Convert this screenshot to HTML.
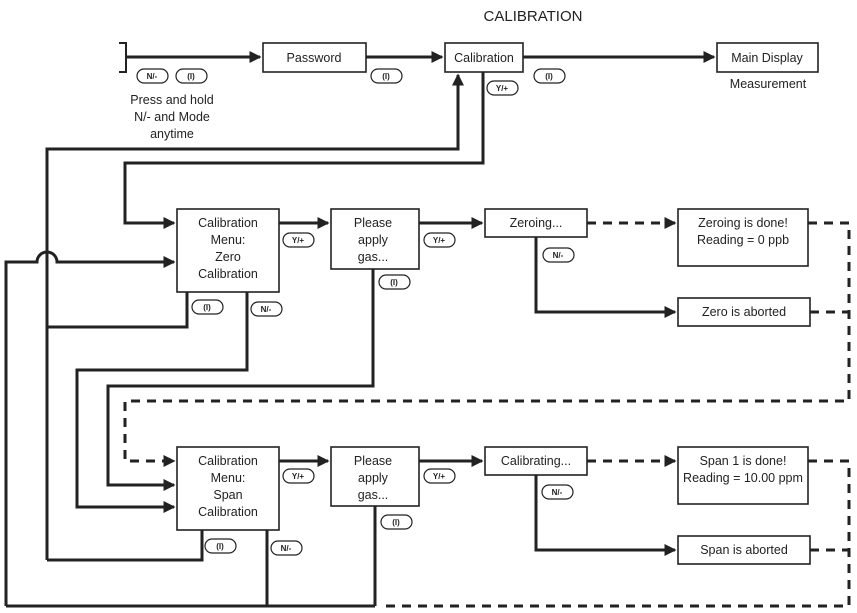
<!DOCTYPE html>
<html><head><meta charset="utf-8"><style>
html,body{margin:0;padding:0;background:#fff;}
svg{display:block;font-family:"Liberation Sans",sans-serif;}
.b{fill:#fff;stroke:#222;stroke-width:1.6}
.l{fill:none;stroke:#222;stroke-width:3}
.d{fill:none;stroke:#222;stroke-width:3;stroke-dasharray:9,7}
.t{font-size:12.5px;fill:#222;text-anchor:middle}
.k{fill:#fff;stroke:#222;stroke-width:1.2}
.kt{font-size:8px;fill:#222;text-anchor:middle;font-weight:bold}
</style></head><body>
<svg width="857" height="613" viewBox="0 0 857 613" xmlns="http://www.w3.org/2000/svg">
<defs>
<marker id="a" markerWidth="4" markerHeight="4" refX="3.5" refY="2" orient="auto" markerUnits="strokeWidth"><path d="M0,0L4,2L0,4Z" fill="#222"/></marker>
</defs>
<text x="533" y="21" class="t" style="font-size:15px">CALIBRATION</text>

<path class="l" d="M119,43H126V72H119" style="stroke-width:2"/>
<path class="l" d="M126,57H260" marker-end="url(#a)"/>
<path class="l" d="M366,57H442" marker-end="url(#a)"/>
<path class="l" d="M523,57H714" marker-end="url(#a)"/>
<rect class="b" x="263" y="43" width="103" height="29"/><text class="t" x="314" y="62">Password</text>
<rect class="b" x="445" y="43" width="78" height="29"/><text class="t" x="484" y="62">Calibration</text>
<rect class="b" x="717" y="43" width="101" height="29"/><text class="t" x="767" y="62">Main Display</text>
<text class="t" x="768" y="88">Measurement</text>
<text class="t" x="172" y="104">Press and hold</text>
<text class="t" x="172" y="121">N/- and Mode</text>
<text class="t" x="172" y="138">anytime</text>

<path class="l" d="M47,560V149H458V75" marker-end="url(#a)"/>
<path class="l" d="M483,72V163H125V223H174" marker-end="url(#a)"/>
<path class="l" d="M6,606V262H37A10,10 0 0 1 57,262H174" marker-end="url(#a)"/>
<path class="l" d="M187,292V327H47"/>
<path class="l" d="M247,292V370H77V507H174" marker-end="url(#a)"/>
<path class="l" d="M373,269V386H108V485H174" marker-end="url(#a)"/>
<path class="l" d="M202,530V560H47"/>
<path class="l" d="M267,530V606M375,506V606M6,606H375"/>
<path class="l" d="M279,223H328" marker-end="url(#a)"/>
<path class="l" d="M419,223H482" marker-end="url(#a)"/>
<path class="l" d="M279,461H328" marker-end="url(#a)"/>
<path class="l" d="M419,461H482" marker-end="url(#a)"/>
<path class="l" d="M536,237V312H675" marker-end="url(#a)"/>
<path class="l" d="M536,475V550H675" marker-end="url(#a)"/>
<path class="d" d="M587,223H675" marker-end="url(#a)"/>
<path class="d" d="M587,461H675" marker-end="url(#a)"/>
<path class="d" d="M808,223H849V401H125V461H174" marker-end="url(#a)"/>
<path class="d" d="M810,312H849"/>
<path class="d" d="M808,461H849V606H383"/>
<path class="d" d="M810,550H849"/>

<rect class="b" x="177" y="209" width="102" height="83"/>
<text class="t" x="228" y="227">Calibration</text><text class="t" x="228" y="244">Menu:</text><text class="t" x="228" y="261">Zero</text><text class="t" x="228" y="278">Calibration</text>
<rect class="b" x="331" y="209" width="88" height="60"/>
<text class="t" x="373" y="227">Please</text><text class="t" x="373" y="244">apply</text><text class="t" x="373" y="261">gas...</text>
<rect class="b" x="485" y="209" width="102" height="28"/><text class="t" x="536" y="227">Zeroing...</text>
<rect class="b" x="678" y="209" width="130" height="57"/>
<text class="t" x="743" y="227">Zeroing is done!</text><text class="t" x="743" y="244">Reading = 0 ppb</text>
<rect class="b" x="678" y="298" width="132" height="28"/><text class="t" x="744" y="316">Zero is aborted</text>

<rect class="b" x="177" y="447" width="102" height="83"/>
<text class="t" x="228" y="465">Calibration</text><text class="t" x="228" y="482">Menu:</text><text class="t" x="228" y="499">Span</text><text class="t" x="228" y="516">Calibration</text>
<rect class="b" x="331" y="447" width="88" height="59"/>
<text class="t" x="373" y="465">Please</text><text class="t" x="373" y="482">apply</text><text class="t" x="373" y="499">gas...</text>
<rect class="b" x="485" y="447" width="102" height="28"/><text class="t" x="536" y="465">Calibrating...</text>
<rect class="b" x="678" y="447" width="130" height="57"/>
<text class="t" x="743" y="465">Span 1 is done!</text><text class="t" x="743" y="482">Reading = 10.00 ppm</text>
<rect class="b" x="678" y="536" width="132" height="28"/><text class="t" x="744" y="554">Span is aborted</text>

<g>
<rect class="k" x="137" y="69" width="31" height="14" rx="7"/><text class="kt" x="152" y="79">N/-</text>
<rect class="k" x="176" y="69" width="31" height="14" rx="7"/><text class="kt" x="191" y="79">(I)</text>
<rect class="k" x="371" y="69" width="31" height="14" rx="7"/><text class="kt" x="386" y="79">(I)</text>
<rect class="k" x="487" y="81" width="31" height="14" rx="7"/><text class="kt" x="502" y="91">Y/+</text>
<rect class="k" x="534" y="69" width="31" height="14" rx="7"/><text class="kt" x="549" y="79">(I)</text>
<rect class="k" x="283" y="233" width="31" height="14" rx="7"/><text class="kt" x="298" y="243">Y/+</text>
<rect class="k" x="424" y="233" width="31" height="14" rx="7"/><text class="kt" x="439" y="243">Y/+</text>
<rect class="k" x="379" y="275" width="31" height="14" rx="7"/><text class="kt" x="394" y="285">(I)</text>
<rect class="k" x="192" y="300" width="31" height="14" rx="7"/><text class="kt" x="207" y="310">(I)</text>
<rect class="k" x="251" y="302" width="31" height="14" rx="7"/><text class="kt" x="266" y="312">N/-</text>
<rect class="k" x="543" y="248" width="31" height="14" rx="7"/><text class="kt" x="558" y="258">N/-</text>
<rect class="k" x="283" y="469" width="31" height="14" rx="7"/><text class="kt" x="298" y="479">Y/+</text>
<rect class="k" x="424" y="469" width="31" height="14" rx="7"/><text class="kt" x="439" y="479">Y/+</text>
<rect class="k" x="381" y="515" width="31" height="14" rx="7"/><text class="kt" x="396" y="525">(I)</text>
<rect class="k" x="205" y="539" width="31" height="14" rx="7"/><text class="kt" x="220" y="549">(I)</text>
<rect class="k" x="271" y="541" width="31" height="14" rx="7"/><text class="kt" x="286" y="551">N/-</text>
<rect class="k" x="542" y="485" width="31" height="14" rx="7"/><text class="kt" x="557" y="495">N/-</text>
</g>
</svg>
</body></html>
